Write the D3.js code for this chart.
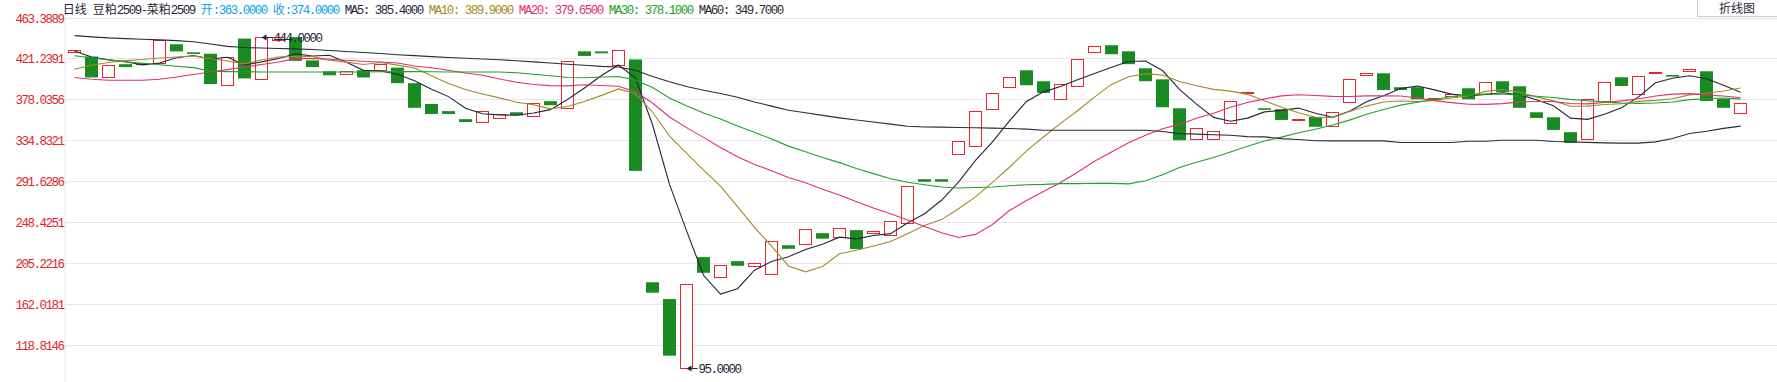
<!DOCTYPE html>
<html><head><meta charset="utf-8">
<script src="https://cdn.jsdelivr.net/npm/d3@7"></script>
<style>
html,body{margin:0;padding:0;background:#fff;overflow:hidden}
svg{display:block}
</style></head><body>
<svg id="chart" width="1777" height="382"></svg>
<script>
// ---------- DATA ----------
const period = "日线";
const symbol = "豆粕2509-菜粕2509";
const buttonLabel = "折线图";

const opens = [428,423,401.5,415,416,416,436,427.5,426,393,
442,399.5,440.5,443.5,419,407.5,404.7,408.6,408.6,411.4,
395,373,365.5,357,353.5,358.7,364.3,360,376,369.3,
428.6,428.5,414.6,420,185,167.3,95,211.5,191,207.3,
201.7,193.3,224,225,236.8,232.3,240,236.5,235,247.7,
293.7,293.7,320.8,328.8,368.2,391.4,408.6,397,378.3,392,
428,435,428.6,410.7,399,368.5,335.6,336.6,353,384.7,
368.5,367.5,356.2,359.4,349.3,375.6,404.1,405.4,390.7,390.7,
378,381.5,389.6,383.3,397,391.7,364.3,359,343.3,336.6,
376.6,401.2,384,405.8,403.6,407.9,407.5,378.3,363];

const closes = [430,401,414.5,412,414,440,428.5,426,394,423,
400,444,444,418.5,412,403.3,407.5,401,415,395,
369,362.5,362.5,354,366,362.5,361,374.5,371.7,418.8,
423.7,426.5,430.4,302.5,174,107.6,183,195,203,202.4,
205,229,220.3,240.7,231,241.8,220,238.6,250,287,
291,291,333.8,365.4,384.3,402,392.8,384.7,393.8,420,
434.6,425.5,415,397,369.6,334.8,348.2,345,376.6,385.8,
367.8,356.2,357,349,365,399.8,406.2,387.8,387.8,378,
379.8,383.6,378,396.7,385.7,369,358.3,345.7,332,378.8,
396.7,392,403,406.5,403,409.6,376.2,369,374];

const ma5 = [429,422.5,419.5,417.5,414.3,416.3,421.8,424.1,420.5,422.3,
414.3,417.4,421,425.9,423.7,424.4,417.1,408.5,407.8,404.4,
397.5,388.5,380.8,368.6,362.8,361.5,361.2,363.6,367.1,377.7,
389.9,403,414.2,400.4,351.4,288.2,239.5,192.4,172.5,178.2,
197.7,206.9,211.9,219.5,225.2,232.6,230.8,234.4,236.3,247.5,
257.3,271.5,290.6,313.6,333.1,355.3,375.7,385.8,391.5,398.7,
405.2,411.7,417.8,418.4,408.3,388.4,372.9,358.9,354.8,358.1,
364.7,366.3,368.7,363.2,359,365.4,375.4,381.6,389.3,391.9,
387.9,383.4,381.4,383.2,384.8,382.6,377.5,371.1,358.1,356.8,
362.3,369,380.5,395.4,400.2,402.8,399.7,392.9,385.4];

const ma10 = [409.7,413.9,416.7,418.8,419.9,421.6,422.6,423.7,420.9,418.3,
415.3,419.6,422.6,423.2,423,419.3,417.2,414.7,416.8,414,
410.9,402.8,394.6,388.2,383.6,379.5,374.9,372.2,367.9,370.3,
375.7,382.1,388.9,383.8,364.6,339.1,321.3,303.3,286.5,264.8,
242.9,223.2,202.2,196,201.7,215.1,218.8,223.2,227.9,236.3,
244.9,251.1,262.5,275,290.3,306.3,323.6,338.2,352.6,365.9,
380.2,393.7,401.8,405,403.5,396.8,392.3,388.4,386.6,383.2,
376.5,369.6,363.8,359,358.5,365,370.8,375.1,376.2,375.5,
376.7,379.4,381.5,386.3,388.3,385.3,380.5,376.3,370.7,370.8,
372.5,373.3,375.8,376.8,378.5,382.6,384.4,386.7,389.9];

const ma20 = [400.9,399.1,398.1,398.1,398.1,399.1,401.5,404.1,406.8,409.3,
412.1,414.6,417.3,420.9,420.9,420.2,419.1,418.1,417.3,416.2,
413.1,411.2,408.6,405.7,403.3,399.4,396,393.5,392.4,392.1,
393.3,392.5,391.8,386,374.1,359.3,348.1,337.8,327.2,317.5,
309.3,302.7,295.5,289.9,283.1,277.1,270,263.3,257.2,250.6,
243.9,237.2,232.3,235.5,246,260.7,271.2,280.7,290.2,301.1,
312.6,322.4,332.2,340,346.9,351.5,358,363.3,369.6,374.5,
378.4,381.6,382.8,382,381,380.9,381.6,381.7,381.4,379.3,
376.6,374.5,372.7,372.6,373.4,375.2,375.7,375.7,373.5,373.1,
374.6,376.3,378.6,381.5,383.4,383.9,382.4,381.5,379.65];

const ma30 = [423.9,421.8,419.7,417.6,416,414.4,412.8,411.4,407.5,407.2,
407,406.8,406.8,406.8,406.8,406.8,406.8,406.8,407,407.2,
407.2,407,406.8,406.8,406.8,406.8,406,404.4,402.8,400.9,
400.7,401.5,402,398.4,390.4,379.3,371.1,363.4,357.1,349.7,
343.2,336,328.6,322.6,316.6,311.2,305,299.6,294.1,290.5,
287.9,285.5,284.5,284.9,285.5,286.8,287.9,288.2,289,289,
289.4,289.3,288.8,292,298.5,306.1,311.6,316.6,322.4,328.5,
333.9,338.1,342.7,346.3,350.8,356,362.3,367.2,371.8,374.9,
377.8,380.9,382.4,383.4,383.5,382.4,381.2,379.9,377.9,376.5,
375.2,374.1,373.7,374,375.1,377.6,378.6,379.4,378.1];

const ma60 = [445.1,443.8,442.7,442,441.3,440.6,439.8,438.6,436.3,433.8,
432.6,432,431.6,431.1,430.5,429.4,428.3,427.3,426.2,425,
424,423,422.1,421.2,420.4,419.7,418.6,417.4,416.2,415,
413.8,412.7,412.1,408.5,402,396.5,391.5,387.5,384,380.2,
375.2,370.8,366.5,363.7,361,358.4,356.2,354.1,351.8,349.6,
348.8,348.6,348.3,348,347.6,347.2,346.5,345.4,345.4,345.4,
345.4,345.4,345.4,345.4,344,341.8,341.2,340.6,340,338.6,
338.3,336.5,335.5,334.3,334.1,334.1,334.1,334.1,332.4,332.4,
332.4,332.4,333.8,333.8,334.8,334.8,334.8,333.5,333,332.5,
332,331.7,331.7,333.1,336.6,341.9,344.2,347.3,349.7];

const tickValues = [463.3889,421.2391,378.0356,334.8321,291.6286,248.4251,205.2216,162.0181,118.8146];

const maSeries = [
  {name:"MA5",  values:ma5,  color:"#25253d"},
  {name:"MA10", values:ma10, color:"#a38a28"},
  {name:"MA20", values:ma20, color:"#e2306f"},
  {name:"MA30", values:ma30, color:"#1fa229"},
  {name:"MA60", values:ma60, color:"#2d2d2d"}
];

// ---------- LAYOUT ----------
const W = 1777, H = 382;
const plotLeft = 64.5, plotTop = 18.3, plotBottom = 382;
const RED = "#e6262e", GREEN = "#198b22", GRID = "#e6e6f1";
const MONO = "'Liberation Mono', monospace";
const CJK = "'Noto Sans CJK SC', sans-serif";

const svg = d3.select("#chart");
const idx = closes.map((d,i)=>i);

const x = d3.scaleBand().domain(idx).range([66, 1749]).paddingInner(0.26).paddingOuter(0.13);
const y = d3.scaleLinear().domain([79.83, 463.3889]).range([plotBottom, plotTop]);
const cx = i => x(i) + x.bandwidth()/2;

// grid
svg.append("g").selectAll("line").data(tickValues).join("line")
  .attr("x1", plotLeft).attr("x2", W)
  .attr("y1", d => Math.round(y(d)) + 0.5).attr("y2", d => Math.round(y(d)) + 0.5)
  .attr("stroke", GRID).attr("stroke-width", 1);

// left axis
const yAxis = d3.axisLeft(y).tickValues(tickValues).tickSize(0).tickPadding(2)
  .tickFormat(d => d.toFixed(4));
const ag = svg.append("g").attr("transform", `translate(${plotLeft},0)`).call(yAxis);
ag.select(".domain").attr("stroke", GRID).attr("d", `M0.5,${plotTop}V${H}`);
ag.selectAll("text")
  .attr("fill", "#e2232c")
  .attr("font-family", MONO)
  .attr("font-size", 12.5)
  .style("letter-spacing", "-1.5px")
  .attr("x", -1)
  .attr("dy", "0.36em");

// candles
const cg = svg.append("g");
idx.forEach(i => {
  const o = opens[i], c = closes[i];
  const top = y(Math.max(o,c)), bot = y(Math.min(o,c));
  const x0 = Math.round(x(i));
  if (c >= o) {
    cg.append("rect")
      .attr("x", x0 + 0.5).attr("y", Math.round(top) + 0.5)
      .attr("width", 12).attr("height", Math.max(1, Math.round(bot) - Math.round(top)))
      .attr("fill", "#fff").attr("stroke", RED).attr("stroke-width", 1);
  } else {
    cg.append("rect")
      .attr("x", x0).attr("y", top)
      .attr("width", 13).attr("height", Math.max(1.6, bot - top))
      .attr("fill", GREEN);
  }
});

// MA lines
const line = d3.line().x((d,i) => cx(i)).y(d => y(d));
svg.append("g").selectAll("path").data(maSeries).join("path")
  .attr("d", d => line(d.values))
  .attr("fill", "none").attr("stroke", d => d.color).attr("stroke-width", 1.1);

// extreme annotations
const highs = idx.map(i => Math.max(opens[i], closes[i]));
const lows = idx.map(i => Math.min(opens[i], closes[i]));
const hi = d3.maxIndex(highs), lo = d3.minIndex(lows);
function annotate(i, v) {
  const px = cx(i), py = Math.round(y(v)) + 0.5;
  const g = svg.append("g");
  g.append("path").attr("d", `M${px},${py}L${px+5},${py-3}L${px+5},${py+3}Z`).attr("fill", "#23233a");
  g.append("line").attr("x1", px+5).attr("x2", px+11).attr("y1", py).attr("y2", py)
    .attr("stroke", "#23233a").attr("stroke-width", 1);
  g.append("text").attr("x", px + 12).attr("y", py).attr("dy", "0.36em")
    .attr("font-family", MONO).attr("font-size", 12.5)
    .style("letter-spacing", "-1.5px").attr("fill", "#23233a")
    .text(v.toFixed(4));
}
annotate(hi, highs[hi]);
annotate(lo, lows[lo]);

// header (12px CJK cells, 6px ASCII cells)
const last = closes.length - 1;
const header = [
  {t: period + " ", c: "#1f1f38"},
  {t: symbol + " ", c: "#1f1f38"},
  {t: "开:" + opens[last].toFixed(4) + " ", c: "#0aa2ee"},
  {t: "收:" + closes[last].toFixed(4) + " ", c: "#0aa2ee"},
].concat(maSeries.map(s => ({ t: s.name + ": " + s.values[last].toFixed(4) + " ", c: s.color })));
const hg = svg.append("g");
const isCJK = ch => /[\u2e80-\u9fff\uff00-\uffef]/.test(ch);
let hx = 62.7;
header.forEach(h => {
  const runs = [];
  for (const ch of h.t) {
    const cj = isCJK(ch);
    if (runs.length && runs[runs.length-1].cj === cj) runs[runs.length-1].s += ch;
    else runs.push({cj, s: ch});
  }
  runs.forEach(r => {
    const t = hg.append("text").attr("x", hx).attr("y", 13.5).attr("fill", h.c).text(r.s)
      .attr("xml:space", "preserve");
    if (r.cj) {
      t.attr("font-family", CJK).attr("font-size", 12);
      hx += r.s.length * 12;
    } else {
      t.attr("font-family", MONO).attr("font-size", 12.5).style("letter-spacing", "-1.5px");
      hx += r.s.length * 6;
    }
  });
});

// top-right button
svg.append("rect").attr("x", 1697.5).attr("y", -2).attr("width", 90).attr("height", 18.5)
  .attr("fill", "#fff").attr("stroke", "#cacae2").attr("stroke-width", 1);
svg.append("text").attr("x", 1737).attr("y", 13).attr("text-anchor", "middle")
  .attr("font-family", CJK).attr("font-size", 12)
  .attr("fill", "#2a2a3a").text(buttonLabel);
</script>
</body></html>
